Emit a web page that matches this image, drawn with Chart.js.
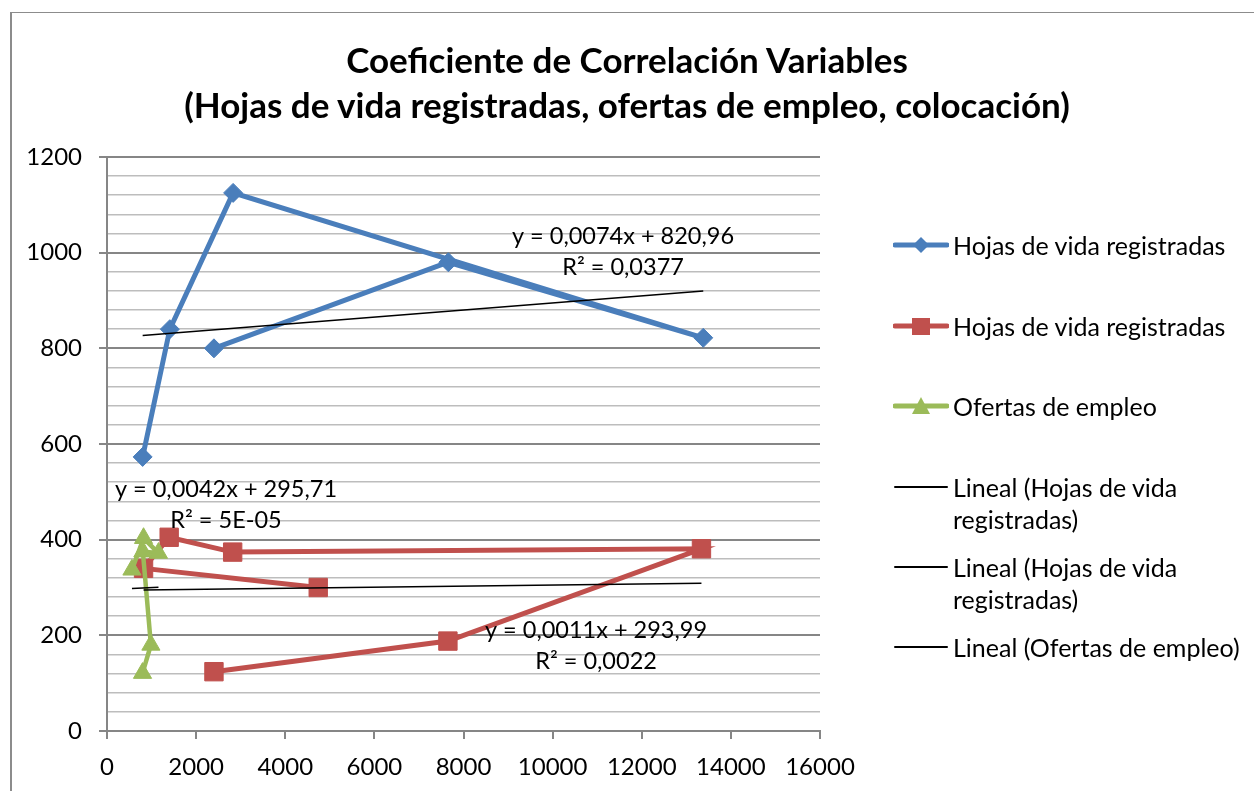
<!DOCTYPE html>
<html lang="es">
<head>
<meta charset="utf-8">
<title>Coeficiente de Correlación Variables</title>
<script src="https://cdn.jsdelivr.net/npm/chart.js@4.4.1/dist/chart.umd.min.js"></script>
<style>
  html, body { margin: 0; padding: 0; background: #fff; }
  body { width: 1254px; height: 791px; overflow: hidden; position: relative; font-family: Lato, 'Open Sans', sans-serif; color: #000; }
  #frame { position: absolute; left: 10px; top: 12px; width: 1300px; height: 900px; border-left: 2px solid #8c8c8c; border-top: 1px solid #8c8c8c; }
  #chart { position: absolute; left: 0; top: 0; }
  #title { position: absolute; left: 0; top: 37px; width: 1254px; text-align: center; font-weight: bold; font-size: 35px; line-height: 45px; }
  .legend-item { position: absolute; left: 893px; height: 32px; }
  .legend-item svg { position: absolute; left: 0; top: 0; }
  .legend-item span { position: absolute; left: 60px; top: 0; font-size: 25px; line-height: 32px; white-space: nowrap; }
</style>
</head>
<body>
<div id="frame"></div>
<canvas id="chart" width="1254" height="791"></canvas>
<div id="title">Coeficiente de Correlación Variables<br>(Hojas de vida registradas, ofertas de empleo, colocación)</div>
<div id="legend"></div>
<script>
// Data
const hojasX = [800, 1410, 2830, 13380, 7660, 2400];
const hojasY = [573, 840, 1125, 822, 980, 800];

const hojas2X = [4740, 820, 1395, 2820, 13340, 7650, 2400];
const hojas2Y = [300, 340, 405, 374, 381, 188, 124];

const ofertasX = [560, 820, 1155, 805, 985, 797];
const ofertasY = [337, 403, 372, 375, 180, 121];

// Trendline coefficients as shown in the chart labels
const trendSlopes = [0.0074, 0.0011, 0.0042];
const trendIntercepts = [820.96, 293.99, 295.71];
const trendTexts = [
    ['y = 0,0074x + 820,96', 'R² = 0,0377'],
    ['y = 0,0011x + 293,99', 'R² = 0,0022'],
    ['y = 0,0042x + 295,71', 'R² = 5E-05']
];
// where each equation label sits (data units)
const labelAnchors = [{ x: 11580, y: 1033 }, { x: 10974, y: 211 }, { x: 2670, y: 504 }];

const seriesNames = ['Hojas de vida registradas', 'Hojas de vida registradas', 'Ofertas de empleo'];
const trendNames = ['Lineal (Hojas de vida registradas)', 'Lineal (Hojas de vida registradas)', 'Lineal (Ofertas de empleo)'];

const xTicks = { min: 0, max: 16000, step: 2000 };
const yTicks = { min: 0, max: 1200, step: 200, minor: 40 };

const BLUE = '#4a7ebb', RED = '#c0504d', GREEN = '#9bbb59';
const FONT = 'Lato, "Open Sans", sans-serif';

function toPoints(xs, ys) {
    return xs.map((x, i) => ({ x: x, y: ys[i] }));
}

function trendPoints(xs, i) {
    const lo = Math.min(...xs), hi = Math.max(...xs);
    return [lo, hi].map(x => ({ x: x, y: trendSlopes[i] * x + trendIntercepts[i] }));
}

// Draw the trendline equations next to their lines
const trendLabels = {
    id: 'trendLabels',
    afterDatasetsDraw(chart) {
        const { ctx, scales } = chart;
        ctx.save();
        ctx.font = '23.5px ' + FONT;
        ctx.fillStyle = '#000';
        ctx.textAlign = 'center';
        ctx.textBaseline = 'middle';
        labelAnchors.forEach((a, i) => {
            const px = scales.x.getPixelForValue(a.x);
            const py = scales.y.getPixelForValue(a.y);
            ctx.fillText(trendTexts[i][0], px, py);
            ctx.fillText(trendTexts[i][1], px, py + 31);
        });
        ctx.restore();
    }
};

const ctx = document.getElementById('chart').getContext('2d');
new Chart(ctx, {
    type: 'scatter',
    data: {
        datasets: [
            { label: trendNames[0], data: trendPoints(hojasX, 0), showLine: true, borderColor: '#000', borderWidth: 1.5, pointRadius: 0, order: 0 },
            { label: trendNames[1], data: trendPoints(hojas2X, 1), showLine: true, borderColor: '#000', borderWidth: 1.5, pointRadius: 0, order: 0 },
            { label: trendNames[2], data: trendPoints(ofertasX, 2), showLine: true, borderColor: '#000', borderWidth: 1.5, pointRadius: 0, order: 0 },
            {
                label: seriesNames[2], data: toPoints(ofertasX, ofertasY), showLine: true,
                borderColor: GREEN, backgroundColor: GREEN, borderWidth: 4.5,
                pointStyle: 'triangle', pointRadius: 10.5, pointBorderWidth: 1, order: 1
            },
            {
                label: seriesNames[1], data: toPoints(hojas2X, hojas2Y), showLine: true,
                borderColor: RED, backgroundColor: RED, borderWidth: 5,
                pointStyle: 'rect', pointRadius: 13, pointBorderWidth: 1, order: 2
            },
            {
                label: seriesNames[0], data: toPoints(hojasX, hojasY), showLine: true,
                borderColor: BLUE, backgroundColor: BLUE, borderWidth: 5,
                pointStyle: 'rectRot', pointRadius: 9.5, pointBorderWidth: 1, order: 3
            }
        ]
    },
    options: {
        responsive: false,
        animation: false,
        devicePixelRatio: 1,
        layout: { padding: { left: 0, right: 434, top: 157, bottom: 0 } },
        plugins: { legend: { display: false }, title: { display: false }, tooltip: { enabled: false } },
        scales: {
            x: {
                type: 'linear', min: xTicks.min, max: xTicks.max,
                ticks: {
                    stepSize: xTicks.step, color: '#000', font: { family: FONT, size: 24 },
                    padding: 14, maxRotation: 0, callback: v => String(v)
                },
                grid: { drawOnChartArea: false, tickLength: 8, color: '#868686', lineWidth: 2 },
                border: { color: '#868686', width: 2 },
                afterFit(s) { s.height = 60; s.paddingLeft = 0; s.paddingRight = 0; }
            },
            y: {
                type: 'linear', min: yTicks.min, max: yTicks.max,
                ticks: {
                    stepSize: yTicks.minor, autoSkip: false, color: '#000',
                    font: { family: FONT, size: 24 }, padding: 17,
                    callback: v => (v % yTicks.step === 0 ? String(v) : '')
                },
                grid: {
                    color: c => (c.tick && c.tick.value % yTicks.step === 0 ? '#868686' : '#bdbdbd'),
                    lineWidth: c => (c.tick && c.tick.value % yTicks.step === 0 ? 2 : 1.6),
                    tickColor: c => (c.tick && c.tick.value % yTicks.step === 0 ? '#868686' : 'rgba(0,0,0,0)'),
                    tickLength: 8
                },
                border: { color: '#868686', width: 2 },
                afterFit(s) { s.width = 107; s.paddingTop = 0; s.paddingBottom = 0; }
            }
        }
    },
    plugins: [trendLabels]
});

// Legend on the right, built as HTML
const legendRows = [
    { text: seriesNames[0], color: BLUE, marker: 'diamond', y: 245 },
    { text: seriesNames[1], color: RED, marker: 'square', y: 326 },
    { text: seriesNames[2], color: GREEN, marker: 'triangle', y: 406 },
    { text: 'Lineal (Hojas de vida<br>registradas)', color: '#000', marker: 'none', y: 487 },
    { text: 'Lineal (Hojas de vida<br>registradas)', color: '#000', marker: 'none', y: 567 },
    { text: trendNames[2], color: '#000', marker: 'none', y: 647 }
];

function markerSvg(row) {
    let shape = '';
    if (row.marker === 'diamond') shape = `<polygon points="28,8 36,16 28,24 20,16" fill="${row.color}"/>`;
    if (row.marker === 'square') shape = `<rect x="19" y="8" width="18" height="17" fill="${row.color}"/>`;
    if (row.marker === 'triangle') shape = `<polygon points="28,7 37,24 19,24" fill="${row.color}"/>`;
    const lw = row.marker === 'none' ? 2 : 5;
    return `<svg width="56" height="32"><line x1="2" y1="16" x2="54" y2="16" stroke="${row.color}" stroke-width="${lw}" stroke-linecap="round"/>${shape}</svg>`;
}

const legendEl = document.getElementById('legend');
legendRows.forEach(row => {
    const div = document.createElement('div');
    div.className = 'legend-item';
    div.style.top = (row.y - 16) + 'px';
    div.innerHTML = markerSvg(row) + `<span>${row.text}</span>`;
    legendEl.appendChild(div);
});
</script>
</body>
</html>
